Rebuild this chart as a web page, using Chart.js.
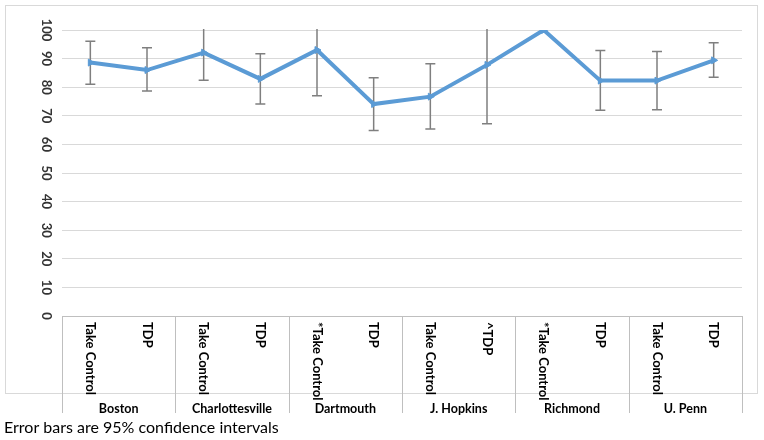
<!DOCTYPE html>
<html>
<head>
<meta charset="utf-8">
<script src="https://cdn.jsdelivr.net/npm/chart.js@4"></script>
<style>
  html, body { margin: 0; padding: 0; background: #fff; }
  #wrap { width: 764px; height: 440px; }
</style>
</head>
<body>
<div id="wrap"><canvas id="chart" width="764" height="440"></canvas></div>
<script>
// sites and arms (two arms per site)
const groups = ['Boston', 'Charlottesville', 'Dartmouth', 'J. Hopkins', 'Richmond', 'U. Penn'];
const categories = ['Take Control', 'TDP', 'Take Control', 'TDP', '*Take Control', 'TDP',
                    'Take Control', '^TDP', '*Take Control', 'TDP', 'Take Control', 'TDP'];
const values  = [88.6, 86.0, 92.1, 82.9, 93.0, 74.1, 76.7, 87.8, 100, 82.3, 82.3, 89.4];
const errLow  = [81.0, 78.7, 82.4, 74.1, 77.0, 64.9, 65.4, 67.2, 100, 71.9, 72.1, 83.5];
const errHigh = [96.1, 93.8, 101.8, 91.7, 109.0, 83.3, 88.2, 108.4, 100, 92.8, 92.5, 95.5];
const yTicks = [0, 10, 20, 30, 40, 50, 60, 70, 80, 90, 100];
const footnote = 'Error bars are 95% confidence intervals';

const FONT = 'Lato, "Open Sans", sans-serif';

// error bars, drawn under the line
const errorBars = {
  id: 'errorBars',
  beforeDatasetsDraw(chart) {
    const { ctx, chartArea } = chart;
    const x = chart.scales.x, y = chart.scales.y;
    ctx.save();
    ctx.beginPath();
    ctx.rect(chartArea.left, chartArea.top - 1, chartArea.width, chartArea.height + 1);
    ctx.clip();
    ctx.strokeStyle = '#7f7f7f';
    ctx.lineWidth = 1.5;
    values.forEach((v, i) => {
      if (errHigh[i] === errLow[i]) return;
      const px = x.getPixelForValue(i);
      const top = y.getPixelForValue(errHigh[i]);
      const bot = y.getPixelForValue(errLow[i]);
      ctx.beginPath();
      ctx.moveTo(px, top); ctx.lineTo(px, bot);
      ctx.moveTo(px - 5, top); ctx.lineTo(px + 5, top);
      ctx.moveTo(px - 5, bot); ctx.lineTo(px + 5, bot);
      ctx.stroke();
    });
    ctx.restore();
  }
};

// rotated tick labels, two-level category axis, frame and footnote
const customAxes = {
  id: 'customAxes',
  afterDraw(chart) {
    const { ctx, chartArea } = chart;
    const x = chart.scales.x, y = chart.scales.y;
    ctx.save();

    // outer frame
    ctx.strokeStyle = '#d9d9d9';
    ctx.lineWidth = 1;
    ctx.strokeRect(5.5, 5.5, 752, 388);

    // y tick labels, rotated clockwise
    ctx.fillStyle = '#333';
    ctx.font = 'bold 13px ' + FONT;
    ctx.textAlign = 'center';
    ctx.textBaseline = 'middle';
    yTicks.forEach(t => {
      ctx.save();
      ctx.translate(chartArea.left - 16, y.getPixelForValue(t));
      ctx.rotate(Math.PI / 2);
      ctx.fillText(String(t), 0, 0);
      ctx.restore();
    });

    // category labels, rotated clockwise
    ctx.fillStyle = '#000';
    ctx.font = 'bold 13px ' + FONT;
    ctx.textAlign = 'left';
    categories.forEach((c, i) => {
      ctx.save();
      ctx.translate(x.getPixelForValue(i), chartArea.bottom + 6);
      ctx.rotate(Math.PI / 2);
      ctx.fillText(c, 0, 0);
      ctx.restore();
    });

    // group separators and group labels
    const step = chartArea.width / categories.length;
    ctx.strokeStyle = '#bfbfbf';
    ctx.beginPath();
    for (let g = 0; g <= groups.length; g++) {
      const gx = Math.round(chartArea.left + g * 2 * step) + 0.5;
      ctx.moveTo(gx, chartArea.bottom);
      ctx.lineTo(gx, chartArea.bottom + 97);
    }
    ctx.stroke();
    ctx.font = 'bold 12.5px ' + FONT;
    ctx.textAlign = 'center';
    groups.forEach((g, i) => {
      ctx.fillText(g, chartArea.left + (i * 2 + 1) * step, chartArea.bottom + 93);
    });

    // footnote
    ctx.font = '16px ' + FONT;
    ctx.textAlign = 'left';
    ctx.fillText(footnote, 4, 428);
    ctx.restore();
  }
};

new Chart(document.getElementById('chart'), {
  type: 'line',
  data: {
    labels: categories,
    datasets: [{
      data: values,
      borderColor: '#5b9bd5',
      backgroundColor: '#5b9bd5',
      borderWidth: 4,
      tension: 0,
      pointStyle: 'triangle',
      rotation: 90,
      pointRadius: 4,
      pointBorderWidth: 1
    }]
  },
  options: {
    responsive: false,
    animation: false,
    layout: { padding: { left: 62, right: 22, top: 30, bottom: 124 } },
    plugins: { legend: { display: false }, tooltip: { enabled: false } },
    scales: {
      x: {
        offset: true,
        grid: { display: false },
        ticks: { display: false },
        border: { display: true, color: '#bfbfbf', width: 1 },
        afterFit(s) { s.height = 0; }
      },
      y: {
        min: 0, max: 100,
        ticks: { display: false, stepSize: 10 },
        grid: { color: '#d9d9d9', drawTicks: false },
        border: { display: false },
        afterFit(s) { s.width = 0; }
      }
    }
  },
  plugins: [errorBars, customAxes]
});
</script>
</body>
</html>
